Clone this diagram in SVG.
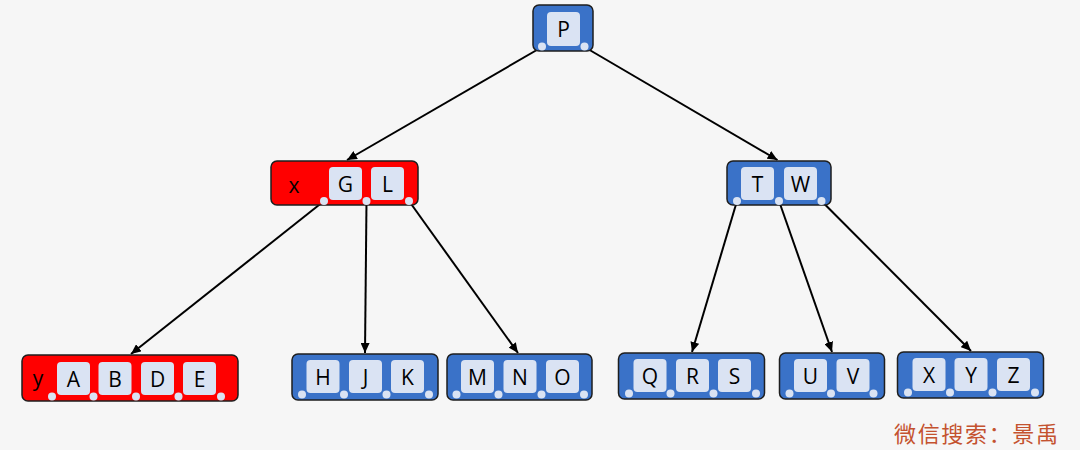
<svg xmlns="http://www.w3.org/2000/svg" width="1080" height="450" viewBox="0 0 1080 450">
<defs>
<style>
.bg{fill:#f6f6f6}
.blue{fill:#3a72c8;stroke:#1e1e1e;stroke-width:1.5}
.red{fill:#ff0000;stroke:#1e1e1e;stroke-width:1.5}
.key{fill:#dae3f3}
.dot{fill:#dae3f3}
.t{font-family:"Open Sans","Liberation Sans",sans-serif;font-size:21px;fill:#000;text-anchor:middle}
.edge{stroke:#000;stroke-width:2;fill:none;marker-end:url(#arr)}
.wm{font-family:"Noto Sans CJK SC",sans-serif;font-size:22px;fill:#c4522f}
</style>
<marker id="arr" markerUnits="userSpaceOnUse" markerWidth="11" markerHeight="9" refX="10" refY="4.5" orient="auto">
<path d="M0,0 L10,4.5 L0,9 z" fill="#000"/>
</marker>
</defs>
<rect class="bg" x="0" y="0" width="1080" height="450"/>
<g id="connectors">
<line class="edge" x1="542" y1="47" x2="347" y2="160"/>
<line class="edge" x1="584.5" y1="47" x2="777.5" y2="160"/>
<line class="edge" x1="324" y1="201" x2="131" y2="354"/>
<line class="edge" x1="366.5" y1="201" x2="365" y2="353"/>
<line class="edge" x1="409" y1="201" x2="518" y2="353"/>
<line class="edge" x1="737" y1="201" x2="692" y2="352"/>
<line class="edge" x1="779" y1="201" x2="832" y2="352"/>
<line class="edge" x1="821.5" y1="201" x2="971" y2="351"/>
</g>
<g id="node-P">
<rect class="blue" x="533" y="5" width="60" height="46" rx="6"/>
<rect class="key" x="547" y="12" width="33" height="34" rx="4"/>
<text class="t" x="563.5" y="36.5">P</text>
<circle class="dot" cx="542" cy="46.5" r="4"/>
<circle class="dot" cx="584.5" cy="46.5" r="4"/>
</g>
<g id="node-GL">
<rect class="red" x="271" y="161" width="147" height="44" rx="6"/>
<text class="t" x="294" y="193">x</text>
<rect class="key" x="329" y="167" width="33" height="33" rx="4"/>
<text class="t" x="345.5" y="191.5">G</text>
<rect class="key" x="371" y="167" width="33" height="33" rx="4"/>
<text class="t" x="387.5" y="191.5">L</text>
<circle class="dot" cx="324" cy="201" r="4"/>
<circle class="dot" cx="366.5" cy="201" r="4"/>
<circle class="dot" cx="409" cy="201" r="4"/>
</g>
<g id="node-TW">
<rect class="blue" x="727" y="161" width="104" height="44" rx="6"/>
<rect class="key" x="741" y="167" width="33" height="33" rx="4"/>
<text class="t" x="757.5" y="191.5">T</text>
<rect class="key" x="784" y="167" width="33" height="33" rx="4"/>
<text class="t" x="800.5" y="191.5">W</text>
<circle class="dot" cx="737" cy="201" r="4"/>
<circle class="dot" cx="779" cy="201" r="4"/>
<circle class="dot" cx="821.5" cy="201" r="4"/>
</g>
<g id="node-ABDE">
<rect class="red" x="22" y="355" width="216" height="46" rx="6"/>
<text class="t" x="38" y="386">y</text>
<rect class="key" x="57" y="362" width="33" height="33" rx="4"/>
<text class="t" x="73.5" y="386.5">A</text>
<rect class="key" x="98.5" y="362" width="33" height="33" rx="4"/>
<text class="t" x="115" y="386.5">B</text>
<rect class="key" x="141" y="362" width="33" height="33" rx="4"/>
<text class="t" x="157.5" y="386.5">D</text>
<rect class="key" x="183" y="362" width="33" height="33" rx="4"/>
<text class="t" x="199.5" y="386.5">E</text>
<circle class="dot" cx="52" cy="396.5" r="4"/>
<circle class="dot" cx="93.5" cy="396.5" r="4"/>
<circle class="dot" cx="136" cy="396.5" r="4"/>
<circle class="dot" cx="178.5" cy="396.5" r="4"/>
<circle class="dot" cx="221" cy="396.5" r="4"/>
</g>
<g id="node-HJK">
<rect class="blue" x="292" y="354" width="146" height="46" rx="6"/>
<rect class="key" x="306.5" y="360" width="33" height="33" rx="4"/>
<text class="t" x="323" y="384.5">H</text>
<rect class="key" x="349" y="360" width="33" height="33" rx="4"/>
<text class="t" x="365.5" y="384.5">J</text>
<rect class="key" x="391" y="360" width="33" height="33" rx="4"/>
<text class="t" x="407.5" y="384.5">K</text>
<circle class="dot" cx="302" cy="394.5" r="4"/>
<circle class="dot" cx="344" cy="394.5" r="4"/>
<circle class="dot" cx="386.5" cy="394.5" r="4"/>
<circle class="dot" cx="429" cy="394.5" r="4"/>
</g>
<g id="node-MNO">
<rect class="blue" x="447" y="354" width="145" height="46" rx="6"/>
<rect class="key" x="461" y="360" width="33" height="33" rx="4"/>
<text class="t" x="477.5" y="384.5">M</text>
<rect class="key" x="503.5" y="360" width="33" height="33" rx="4"/>
<text class="t" x="520" y="384.5">N</text>
<rect class="key" x="546" y="360" width="33" height="33" rx="4"/>
<text class="t" x="562.5" y="384.5">O</text>
<circle class="dot" cx="456.5" cy="394.5" r="4"/>
<circle class="dot" cx="498.5" cy="394.5" r="4"/>
<circle class="dot" cx="541.5" cy="394.5" r="4"/>
<circle class="dot" cx="584" cy="394.5" r="4"/>
</g>
<g id="node-QRS">
<rect class="blue" x="618.5" y="353" width="146" height="46" rx="6"/>
<rect class="key" x="633.5" y="359" width="33" height="33" rx="4"/>
<text class="t" x="650" y="383.5">Q</text>
<rect class="key" x="676" y="359" width="33" height="33" rx="4"/>
<text class="t" x="692.5" y="383.5">R</text>
<rect class="key" x="718" y="359" width="33" height="33" rx="4"/>
<text class="t" x="734.5" y="383.5">S</text>
<circle class="dot" cx="629" cy="393.5" r="4"/>
<circle class="dot" cx="670.5" cy="393.5" r="4"/>
<circle class="dot" cx="713.5" cy="393.5" r="4"/>
<circle class="dot" cx="756" cy="393.5" r="4"/>
</g>
<g id="node-UV">
<rect class="blue" x="779.5" y="353" width="105" height="46" rx="6"/>
<rect class="key" x="794" y="359" width="33" height="33" rx="4"/>
<text class="t" x="810.5" y="383.5">U</text>
<rect class="key" x="836.5" y="359" width="33" height="33" rx="4"/>
<text class="t" x="853" y="383.5">V</text>
<circle class="dot" cx="789.5" cy="393.5" r="4"/>
<circle class="dot" cx="831" cy="393.5" r="4"/>
<circle class="dot" cx="873.5" cy="393.5" r="4"/>
</g>
<g id="node-XYZ">
<rect class="blue" x="897.5" y="352" width="146" height="46" rx="6"/>
<rect class="key" x="912.5" y="358" width="33" height="33" rx="4"/>
<text class="t" x="929" y="382.5">X</text>
<rect class="key" x="954.5" y="358" width="33" height="33" rx="4"/>
<text class="t" x="971" y="382.5">Y</text>
<rect class="key" x="997" y="358" width="33" height="33" rx="4"/>
<text class="t" x="1013.5" y="382.5">Z</text>
<circle class="dot" cx="908" cy="392.5" r="4"/>
<circle class="dot" cx="950" cy="392.5" r="4"/>
<circle class="dot" cx="992.5" cy="392.5" r="4"/>
<circle class="dot" cx="1035" cy="392.5" r="4"/>
</g>
<text class="wm" x="894" y="442" textLength="164" lengthAdjust="spacing">微信搜索：景禹</text>
</svg>
